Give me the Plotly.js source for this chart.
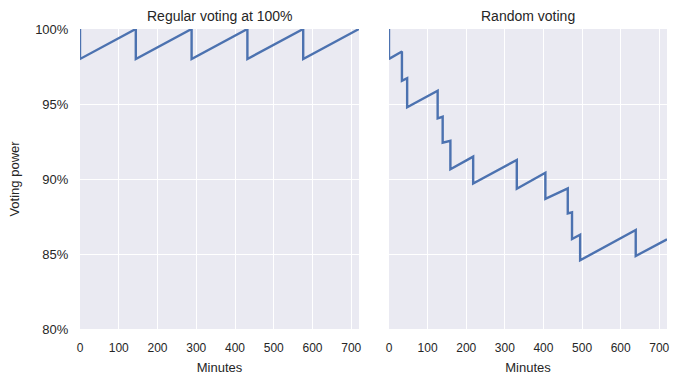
<!DOCTYPE html>
<html>
<head>
<meta charset="utf-8">
<script src="https://cdn.plot.ly/plotly-3.0.1.min.js"></script>
<style>html,body{margin:0;padding:0;background:#fff;}#chart{width:683px;height:385px;}</style>
</head>
<body>
<div id="chart"></div>
<script>
// Left panel: regular voting at 100%
var regularMinutes = [0, 0, 144, 144, 288, 288, 432, 432, 576, 576, 720];
var regularPower   = [100, 98, 100, 98, 100, 98, 100, 98, 100, 98, 100];

// Right panel: random voting
var randomMinutes = [0, 0, 33.5, 33.5, 47, 47, 126, 126, 139, 139, 159, 159, 218, 218, 331, 331, 405, 405, 463, 463, 474, 474, 495, 495, 639, 639, 720];
var randomPower   = [100, 98, 98.5, 96.55, 96.72, 94.78, 95.88, 94.04, 94.15, 92.42, 92.55, 90.65, 91.49, 89.7, 91.27, 89.35, 90.42, 88.67, 89.38, 87.7, 87.78, 86.0, 86.28, 84.58, 86.6, 84.87, 85.98];

var xTicks = [0, 100, 200, 300, 400, 500, 600, 700];
var yTicks = [80, 85, 90, 95, 100];
var yTickText = ["80%", "85%", "90%", "95%", "100%"];
var titles = ["Regular voting at 100%", "Random voting"];

var lineColor = "#4C72B0";
var font = "Liberation Sans, Arial, sans-serif";
var textColor = "#262626";

var traces = [
  {x: regularMinutes, y: regularPower, type: "scatter", mode: "lines",
   line: {color: lineColor, width: 2.4}, xaxis: "x", yaxis: "y", hoverinfo: "skip"},
  {x: randomMinutes, y: randomPower, type: "scatter", mode: "lines",
   line: {color: lineColor, width: 2.4}, xaxis: "x2", yaxis: "y2", hoverinfo: "skip"}
];

function xAxis(domain, anchor) {
  return {
    domain: domain, anchor: anchor, range: [0, 720],
    tickvals: xTicks, showgrid: true, gridcolor: "#ffffff", gridwidth: 1,
    zeroline: false, showline: false,
    ticks: "outside", ticklen: 8, tickcolor: "rgba(0,0,0,0)",
    tickfont: {size: 12, color: textColor, family: font},
    title: {text: "Minutes", font: {size: 13, color: textColor, family: font}, standoff: 8}
  };
}

var layout = {
  width: 683, height: 385,
  margin: {l: 80, r: 16, t: 29, b: 56},
  paper_bgcolor: "#ffffff", plot_bgcolor: "#EAEAF2",
  showlegend: false,
  font: {family: font, color: textColor},
  xaxis: xAxis([0, 0.4753], "y"),
  xaxis2: xAxis([0.5264, 1], "y2"),
  yaxis: {
    domain: [0, 1], anchor: "x", range: [80, 100],
    tickvals: yTicks, ticktext: yTickText,
    showgrid: true, gridcolor: "#ffffff", gridwidth: 1,
    zeroline: false, showline: false,
    ticks: "outside", ticklen: 8, tickcolor: "rgba(0,0,0,0)",
    tickfont: {size: 13, color: textColor, family: font},
    title: {text: "Voting power", font: {size: 13, color: textColor, family: font}, standoff: 12}
  },
  yaxis2: {
    domain: [0, 1], anchor: "x2", range: [80, 100],
    tickvals: yTicks, showticklabels: false,
    showgrid: true, gridcolor: "#ffffff", gridwidth: 1,
    zeroline: false, showline: false, ticks: ""
  },
  annotations: [
    {text: titles[0], xref: "paper", yref: "paper", x: 0.4753 / 2, y: 1, yshift: 3,
     xanchor: "center", yanchor: "bottom", showarrow: false,
     font: {size: 14, color: textColor, family: font}},
    {text: titles[1], xref: "paper", yref: "paper", x: (0.5264 + 1) / 2, y: 1, yshift: 3,
     xanchor: "center", yanchor: "bottom", showarrow: false,
     font: {size: 14, color: textColor, family: font}}
  ]
};

Plotly.newPlot("chart", traces, layout, {displayModeBar: false, staticPlot: true});
</script>
</body>
</html>
